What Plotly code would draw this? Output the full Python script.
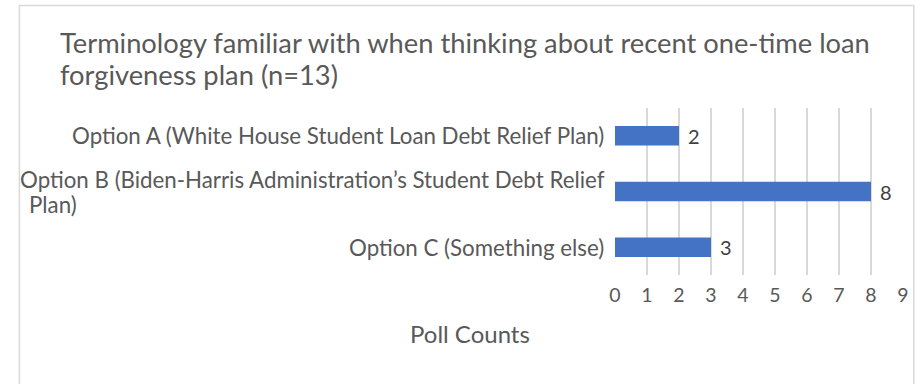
import plotly.graph_objects as go

categories = [
    "Option A (White House Student Loan Debt Relief Plan)",
    "Option B (Biden-Harris Administration’s Student Debt Relief<br>Plan)",
    "Option C (Something else)",
]
counts = [2, 8, 3]
x_ticks = [0, 1, 2, 3, 4, 5, 6, 7, 8, 9]
title_lines = [
    "Terminology familiar with when thinking about recent one-time loan",
    "forgiveness plan (n=13)",
]
x_title = "Poll Counts"

FONT = "Lato"
GRAY = "#595959"
W, H = 915, 384
L, R, T, B = 615, 6, 108, 109
pw, ph = W - L - R, H - T - B


def px_x(px):
    return (px - L) / pw


def px_y(py):
    return (H - B - py) / ph


ykeys = ["A", "B", "C"]

fig = go.Figure(go.Bar(
    x=counts, y=ykeys, orientation="h",
    marker=dict(color="#4472C4", line=dict(width=0)),
    width=0.35,
    cliponaxis=False,
))

fig.update_layout(
    width=W, height=H,
    margin=dict(l=L, r=R, t=T, b=B),
    paper_bgcolor="white", plot_bgcolor="white",
    showlegend=False,
    font=dict(family=FONT, color=GRAY),
    xaxis=dict(range=[0, 9], tickvals=x_ticks, ticktext=[str(v) for v in x_ticks],
               showgrid=True, gridcolor="#D9D9D9", gridwidth=1.5,
               zeroline=False, showline=False, ticks="", ticklabelstandoff=6,
               tickfont=dict(family=FONT, size=19.5, color=GRAY)),
    yaxis=dict(categoryorder="array", categoryarray=ykeys[::-1],
               showticklabels=False, showgrid=False, zeroline=False, ticks=""),
)

# data labels
for k, v in zip(ykeys, counts):
    fig.add_annotation(x=v, y=k, xref="x", yref="y", text=str(v),
                       xanchor="left", yanchor="middle", xshift=7, showarrow=False,
                       font=dict(family=FONT, size=20, color="#404040"))

# category labels
LAB = 22.3
for k, c in zip(ykeys, categories):
    parts = c.split("<br>")
    if len(parts) == 1:
        fig.add_annotation(x=0, y=k, xref="paper", yref="y", text=c,
                           xanchor="right", yanchor="middle", xshift=-9,
                           showarrow=False, font=dict(family=FONT, size=LAB, color=GRAY))
    else:
        fig.add_annotation(x=0, y=k, xref="paper", yref="y", text=parts[0],
                           xanchor="right", yanchor="middle", xshift=-9, yshift=12,
                           borderpad=0, showarrow=False,
                           font=dict(family=FONT, size=LAB, color=GRAY))
        fig.add_annotation(x=px_x(16), y=k, xref="paper", yref="y", text=parts[1],
                           xanchor="left", yanchor="middle", yshift=-13,
                           borderpad=0, showarrow=False,
                           font=dict(family=FONT, size=LAB, color=GRAY))

# title lines
for i, t in enumerate(title_lines):
    fig.add_annotation(x=px_x(46), y=px_y(43 + 31 * i), xref="paper", yref="paper",
                       text=t, xanchor="left", yanchor="middle", showarrow=False,
                       font=dict(family=FONT, size=27.3, color=GRAY))

# axis title
fig.add_annotation(x=px_x(467), y=px_y(333), xref="paper", yref="paper",
                   text=x_title, xanchor="center", yanchor="middle", showarrow=False,
                   font=dict(family=FONT, size=24, color=GRAY))

# chart border
fig.add_shape(type="rect", xref="paper", yref="paper",
              x0=px_x(7), x1=px_x(W + 5),
              y0=px_y(H + 5), y1=px_y(5.5),
              line=dict(color="#D9D9D9", width=1.5), fillcolor="rgba(0,0,0,0)", layer="below")

fig.write_html("out.html")
